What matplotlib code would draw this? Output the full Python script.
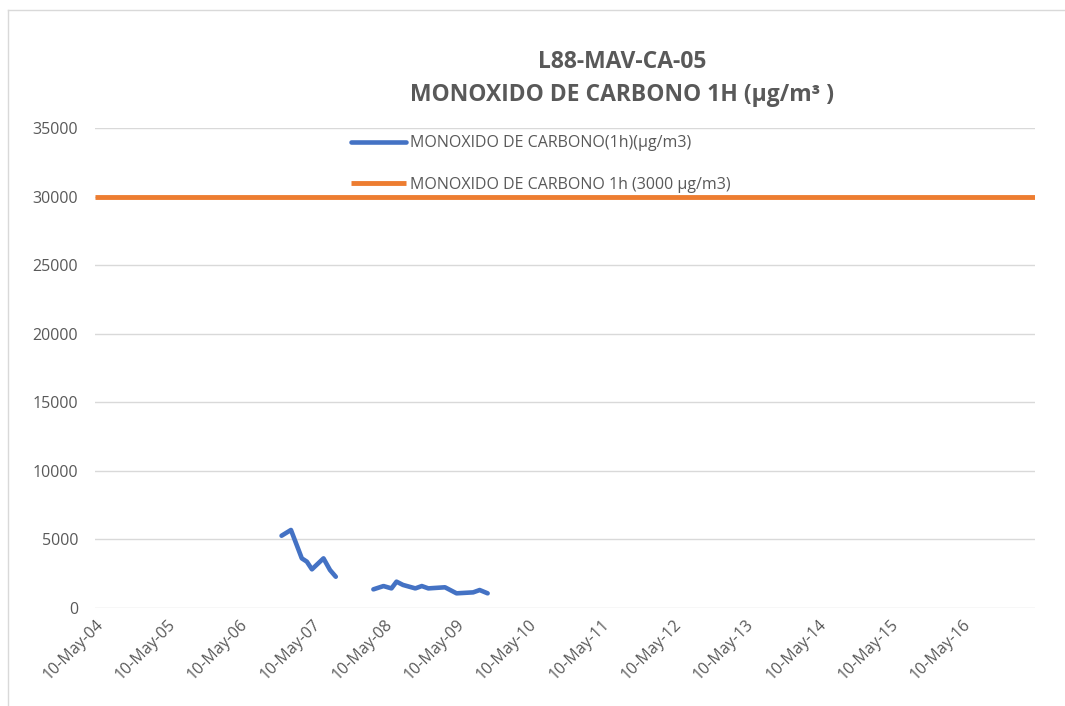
import numpy as np
import matplotlib.pyplot as plt
from matplotlib.lines import Line2D

# hours on 10 May (x axis), values in ug/m3
seg1_x = [6.58, 6.71, 6.86, 6.93, 7.00, 7.16, 7.25, 7.33]
seg1_y = [5270, 5690, 3620, 3380, 2820, 3620, 2770, 2280]
seg2_x = [7.85, 7.99, 8.10, 8.17, 8.26, 8.43, 8.52, 8.61, 8.84, 9.00, 9.23, 9.32, 9.43]
seg2_y = [1360, 1600, 1430, 1920, 1680, 1430, 1600, 1430, 1510, 1070, 1140, 1310, 1070]
limit_x = [4, 17]
limit_y = [30000, 30000]

tick_hours = list(range(4, 17))
tick_labels = ['10-May-%02d' % h for h in tick_hours]
yticks = list(range(0, 35001, 5000))

grey = '#595959'
blue = '#4472C4'
orange = '#ED7D31'

plt.rcParams['font.family'] = ['Open Sans', 'DejaVu Sans']

fig = plt.figure(figsize=(10.65, 7.06), dpi=100)
W, H = 1065, 706
ax = fig.add_axes([95 / W, 1 - 608 / H, 940 / W, 480 / H])

# chart border
fig.add_artist(Line2D([8 / W, 8 / W], [0, 1 - 10 / H], color='#d9d9d9', lw=1))
fig.add_artist(Line2D([8 / W, 1], [1 - 10 / H, 1 - 10 / H], color='#d9d9d9', lw=1))

ax.plot(seg1_x, seg1_y, color=blue, lw=3.3, solid_capstyle='round', solid_joinstyle='round')
l1, = ax.plot(seg2_x, seg2_y, color=blue, lw=3.3, solid_capstyle='round', solid_joinstyle='round',
              label='MONOXIDO DE CARBONO(1h)(µg/m3)')
l2, = ax.plot(limit_x, limit_y, color=orange, lw=3.5, solid_capstyle='butt',
              label='MONOXIDO DE CARBONO 1h (3000 µg/m3)')

ax.set_xlim(4, 17)
ax.set_ylim(0, 35000)
ax.set_yticks(yticks)
ax.set_yticklabels([str(v) for v in yticks], color=grey, fontsize=11.5)
ax.set_xticks(tick_hours)
ax.set_xticklabels(tick_labels, rotation=45, ha='right', va='top', rotation_mode='anchor',
                   color=grey, fontsize=11.5)
ax.tick_params(length=0, pad=12)
ax.tick_params(axis='x', pad=6)
ax.grid(axis='y', color='#d9d9d9', lw=1)
ax.set_axisbelow(True)
for s in ax.spines.values():
    s.set_visible(False)

leg = ax.legend(handles=[l1, l2], loc='upper left', bbox_to_anchor=(337 / W, 1 - 121 / H),
                bbox_transform=fig.transFigure, frameon=False, fontsize=11.5,
                handlelength=3.4, handletextpad=0.3, labelspacing=1.6)
for t in leg.get_texts():
    t.set_color(grey)

fig.text(622 / W, 1 - 62 / H, 'L88-MAV-CA-05', ha='center', va='center',
         fontsize=16.5, fontweight='bold', color=grey)
fig.text(622 / W, 1 - 95 / H, 'MONOXIDO DE CARBONO 1H (µg/m³ )', ha='center', va='center',
         fontsize=16.5, fontweight='bold', color=grey)

fig.savefig('out.png', dpi=100)
